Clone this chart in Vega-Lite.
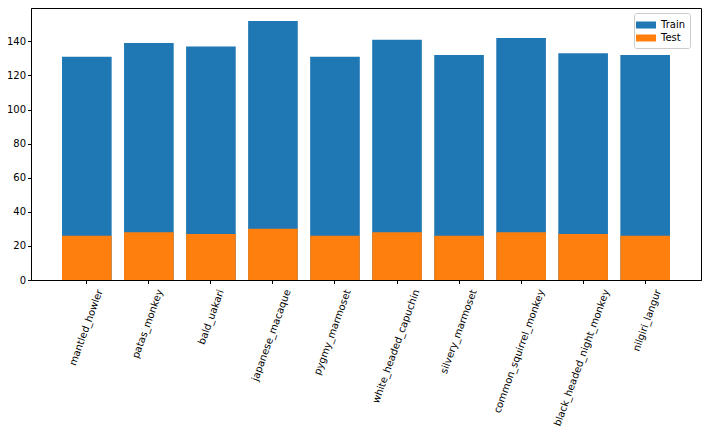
{
  "$schema": "https://vega.github.io/schema/vega-lite/v6.json",
  "width": 670,
  "height": 272,
  "autosize": "none",
  "padding": {"left": 31, "top": 8, "right": 9, "bottom": 153},
  "background": "white",
  "data": {
    "values": [
      {"species": "mantled_howler", "set": "Train", "count": 131},
      {"species": "patas_monkey", "set": "Train", "count": 139},
      {"species": "bald_uakari", "set": "Train", "count": 137},
      {"species": "japanese_macaque", "set": "Train", "count": 152},
      {"species": "pygmy_marmoset", "set": "Train", "count": 131},
      {"species": "white_headed_capuchin", "set": "Train", "count": 141},
      {"species": "silvery_marmoset", "set": "Train", "count": 132},
      {"species": "common_squirrel_monkey", "set": "Train", "count": 142},
      {"species": "black_headed_night_monkey", "set": "Train", "count": 133},
      {"species": "nilgiri_langur", "set": "Train", "count": 132},
      {"species": "mantled_howler", "set": "Test", "count": 26},
      {"species": "patas_monkey", "set": "Test", "count": 28},
      {"species": "bald_uakari", "set": "Test", "count": 27},
      {"species": "japanese_macaque", "set": "Test", "count": 30},
      {"species": "pygmy_marmoset", "set": "Test", "count": 26},
      {"species": "white_headed_capuchin", "set": "Test", "count": 28},
      {"species": "silvery_marmoset", "set": "Test", "count": 26},
      {"species": "common_squirrel_monkey", "set": "Test", "count": 28},
      {"species": "black_headed_night_monkey", "set": "Test", "count": 27},
      {"species": "nilgiri_langur", "set": "Test", "count": 26}
    ]
  },
  "mark": {"type": "bar"},
  "encoding": {
    "x": {
      "field": "species",
      "type": "nominal",
      "sort": null,
      "title": null,
      "scale": {"paddingInner": 0.2, "paddingOuter": 0.5},
      "axis": {
        "labelAngle": -70,
        "labelPadding": 6,
        "labelOffset": {"expr": "length(datum.label) * 0.94"}
      }
    },
    "y": {
      "field": "count",
      "type": "quantitative",
      "stack": null,
      "title": null,
      "scale": {"domain": [0, 159.6], "nice": false},
      "axis": {"values": [0, 20, 40, 60, 80, 100, 120, 140]}
    },
    "color": {
      "field": "set",
      "type": "nominal",
      "sort": ["Train", "Test"],
      "scale": {"domain": ["Train", "Test"], "range": ["#1f77b4", "#ff7f0e"]},
      "legend": {
        "title": null,
        "orient": "none",
        "legendX": 603,
        "legendY": 5,
        "fillColor": "white",
        "strokeColor": "#cccccc",
        "cornerRadius": 2,
        "padding": 5,
        "symbolType": "M-1.43,-0.5H1.43V0.5H-1.43Z",
        "symbolSize": 196,
        "symbolStrokeWidth": 0,
        "symbolOpacity": 1,
        "labelFontSize": 10,
        "labelOffset": 8,
        "rowPadding": 1
      }
    }
  },
  "config": {
    "font": "DejaVu Sans",
    "view": {"stroke": "black", "strokeWidth": 1},
    "axis": {
      "grid": false,
      "domainColor": "black",
      "tickColor": "black",
      "tickSize": 3.5,
      "labelFontSize": 10,
      "labelColor": "black",
      "labelFont": "DejaVu Sans"
    },
    "legend": {"labelFont": "DejaVu Sans", "labelColor": "black"}
  }
}
